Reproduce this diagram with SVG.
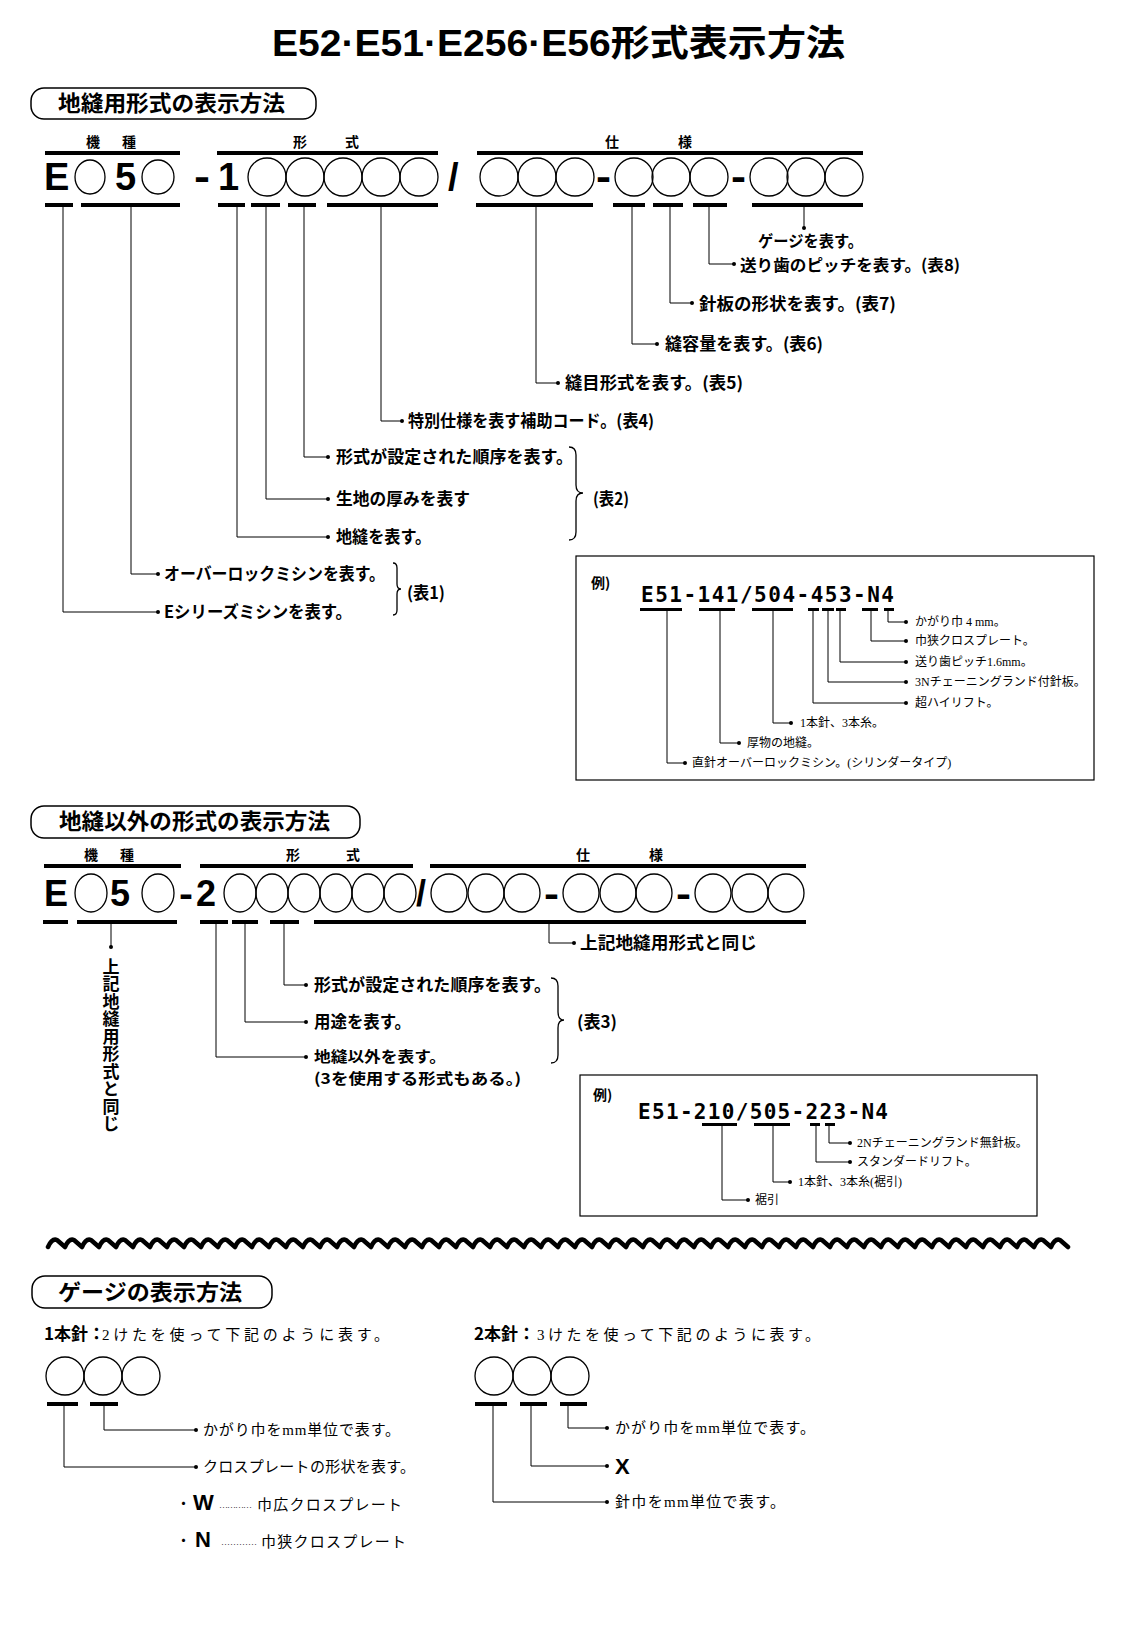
<svg xmlns="http://www.w3.org/2000/svg" width="1133" height="1626" viewBox="0 0 1133 1626">
<style>
.g{font-family:"Noto Sans CJK JP",sans-serif;font-weight:700;fill:#000}
.code{font-family:"Liberation Sans","Noto Sans CJK JP",sans-serif;font-weight:700;font-size:38px;fill:#000}
.code2{font-family:"Liberation Sans","Noto Sans CJK JP",sans-serif;font-weight:700;font-size:36px;fill:#000}
.mono{font-family:"DejaVu Sans Mono",monospace;font-weight:700;font-size:21px;fill:#000}
.m{font-family:"Liberation Serif","Noto Sans CJK JP",serif;font-weight:400;font-size:12px;fill:#000}
.m15{font-family:"Liberation Serif","Noto Sans CJK JP",serif;font-weight:400;font-size:15px;fill:#000}
.ov{fill:none;stroke:#000;stroke-width:1.3}
.pill{fill:none;stroke:#000;stroke-width:1.5}
.box{fill:none;stroke:#000;stroke-width:1.2}
.ln{fill:none;stroke:#000;stroke-width:1;marker-end:url(#dot)}
.br{fill:none;stroke:#000;stroke-width:1.3}
</style>
<defs>
<marker id="dot" markerUnits="userSpaceOnUse" markerWidth="6" markerHeight="6" refX="3" refY="3"><circle cx="3" cy="3" r="2" fill="#000"/></marker>
</defs>
<rect width="1133" height="1626" fill="#fff"/>

<g id="title"><text class="code" x="272" y="56" textLength="573" lengthAdjust="spacingAndGlyphs" style="font-size:36px">E52·E51·E256·E56形式表示方法</text></g>

<!-- Section 1 -->
<g id="sec1-heading"><rect class="pill" x="31" y="88" width="285" height="31" rx="13"/><text class="g" x="58" y="111" font-size="22" textLength="227" lengthAdjust="spacingAndGlyphs">地縫用形式の表示方法</text></g>
<g id="sec1-headers" class="g" font-size="14">
<text><tspan x="86" y="147">機</tspan><tspan x="122" y="147">種</tspan></text>
<text><tspan x="293" y="147">形</tspan><tspan x="345" y="147">式</tspan></text>
<text><tspan x="605" y="147">仕</tspan><tspan x="678" y="147">様</tspan></text>
<rect x="45" y="151" width="135" height="4"/><rect x="217" y="151" width="221" height="4"/><rect x="477" y="151" width="386" height="4"/>
</g>
<g id="sec1-code">
<text class="code" x="44" y="190">E</text>
<ellipse class="ov" cx="90" cy="177" rx="15" ry="17"/>
<text class="code" x="115" y="190">5</text>
<ellipse class="ov" cx="158" cy="177" rx="16" ry="17"/>
<text class="code" x="194" y="190" textLength="16" lengthAdjust="spacingAndGlyphs">-</text>
<text class="code" x="218" y="190">1</text>
<circle class="ov" cx="267" cy="177" r="19"/><circle class="ov" cx="305" cy="177" r="19"/><circle class="ov" cx="343" cy="177" r="19"/><circle class="ov" cx="381" cy="177" r="19"/><circle class="ov" cx="419" cy="177" r="19"/>
<text class="code" x="448" y="190">/</text>
<circle class="ov" cx="499" cy="177" r="19"/><circle class="ov" cx="537" cy="177" r="19"/><circle class="ov" cx="575" cy="177" r="19"/>
<text class="code" x="596" y="190" textLength="15" lengthAdjust="spacingAndGlyphs">-</text>
<circle class="ov" cx="634" cy="177" r="19"/><circle class="ov" cx="671" cy="177" r="19"/><circle class="ov" cx="709" cy="177" r="19"/>
<text class="code" x="731" y="190" textLength="15" lengthAdjust="spacingAndGlyphs">-</text>
<circle class="ov" cx="769" cy="177" r="19"/><circle class="ov" cx="806" cy="177" r="19"/><circle class="ov" cx="844" cy="177" r="19"/>
<rect x="45" y="203" width="28" height="4"/><rect x="81" y="203" width="99" height="4"/><rect x="218" y="203" width="27" height="4"/><rect x="251" y="203" width="29" height="4"/><rect x="288" y="203" width="28" height="4"/><rect x="327" y="203" width="111" height="4"/><rect x="476" y="203" width="117" height="4"/><rect x="613" y="203" width="32" height="4"/><rect x="653" y="203" width="30" height="4"/><rect x="693" y="203" width="34" height="4"/><rect x="752" y="203" width="111" height="4"/>
</g>
<g id="connectors">
<path class="ln" d="M63,207V612H158"/>
<path class="ln" d="M131,207V574H158"/>
<path class="ln" d="M237,207V537H328"/>
<path class="ln" d="M266,207V499H328"/>
<path class="ln" d="M304,207V457H328"/>
<path class="ln" d="M381,207V421H402"/>
<path class="ln" d="M536,207V383H558"/>
<path class="ln" d="M632,207V344H657"/>
<path class="ln" d="M670,207V303H692"/>
<path class="ln" d="M709,207V264H734"/>
<path class="ln" d="M804,207V228"/>
<path class="br" d="M393,563Q397,563 397,568L397,584Q397,589 401,589Q397,589 397,594L397,610Q397,615 393,615"/>
<path class="br" d="M569,447Q576,447 576,455L576,485Q576,493 583,493Q576,493 576,501L576,532Q576,540 569,540"/>
<path class="ln" d="M667,611V763H685"/>
<path class="ln" d="M720,611V743H739"/>
<path class="ln" d="M773,611V723H791"/>
<path class="ln" d="M813,611V703H906"/>
<path class="ln" d="M828,611V682H906"/>
<path class="ln" d="M840,611V662H906"/>
<path class="ln" d="M871,611V641H906"/>
<path class="ln" d="M888,611V622H906"/>
<path class="ln" d="M111,924V947"/>
<path class="ln" d="M549,924V943H574"/>
<path class="ln" d="M284,924V985H306"/>
<path class="ln" d="M245,924V1022H306"/>
<path class="ln" d="M216,924V1057H306"/>
<path class="br" d="M551,978Q558,978 558,986L558,1012Q558,1020 564,1020Q558,1020 558,1028L558,1055Q558,1063 551,1063"/>
<path class="ln" d="M829,1125V1143H850"/>
<path class="ln" d="M816,1125V1162H850"/>
<path class="ln" d="M773,1125V1182H790"/>
<path class="ln" d="M722,1125V1200H748"/>
<path class="ln" d="M64,1406V1467H196"/>
<path class="ln" d="M104,1406V1430H196"/>
<path class="ln" d="M568,1406V1428H607"/>
<path class="ln" d="M531,1406V1466H607"/>
<path class="ln" d="M493,1406V1502H607"/>
</g>

<g id="sec1-labels" class="g" font-size="17">
<text x="758" y="247" font-size="16" textLength="105" lengthAdjust="spacingAndGlyphs">ゲージを表す。</text>
<text x="740" y="271" font-size="16" textLength="220" lengthAdjust="spacingAndGlyphs">送り歯のピッチを表す。(表8)</text>
<text x="699" y="310" textLength="197" lengthAdjust="spacingAndGlyphs">針板の形状を表す。(表7)</text>
<text x="665" y="350" textLength="158" lengthAdjust="spacingAndGlyphs">縫容量を表す。(表6)</text>
<text x="565" y="389" textLength="178" lengthAdjust="spacingAndGlyphs">縫目形式を表す。(表5)</text>
<text x="408" y="427" textLength="246" lengthAdjust="spacingAndGlyphs">特別仕様を表す補助コード。(表4)</text>
<text x="336" y="463" textLength="237" lengthAdjust="spacingAndGlyphs">形式が設定された順序を表す。</text>
<text x="336" y="505" textLength="134" lengthAdjust="spacingAndGlyphs">生地の厚みを表す</text>
<text x="336" y="543" textLength="95" lengthAdjust="spacingAndGlyphs">地縫を表す。</text>
<text x="593" y="505" textLength="36" lengthAdjust="spacingAndGlyphs">(表2)</text>
<text x="164" y="580" textLength="221" lengthAdjust="spacingAndGlyphs">オーバーロックミシンを表す。</text>
<text x="164" y="618" textLength="188" lengthAdjust="spacingAndGlyphs">Eシリーズミシンを表す。</text>
<text x="407" y="599" textLength="38" lengthAdjust="spacingAndGlyphs">(表1)</text>
</g>

<g id="example1">
<rect class="box" x="576" y="556" width="518" height="224"/>
<text class="g" x="591" y="588" font-size="14">例)</text>
<text class="mono" x="641" y="602" textLength="253">E51-141/504-453-N4</text>
<rect x="640" y="608" width="42" height="3"/><rect x="699" y="608" width="36" height="3"/><rect x="752" y="608" width="41" height="3"/><rect x="808" y="608" width="11" height="3"/><rect x="822" y="608" width="12" height="3"/><rect x="836" y="608" width="10" height="3"/><rect x="862" y="608" width="16" height="3"/><rect x="884" y="608" width="10" height="3"/>
<text class="m" x="915" y="626">かがり巾 4 mm。</text>
<text class="m" x="915" y="645">巾狭クロスプレート。</text>
<text class="m" x="915" y="666">送り歯ピッチ1.6mm。</text>
<text class="m" x="915" y="686">3Nチェーニングランド付針板。</text>
<text class="m" x="915" y="707">超ハイリフト。</text>
<text class="m" x="800" y="727">1本針、3本糸。</text>
<text class="m" x="747" y="747">厚物の地縫。</text>
<text class="m" x="692" y="767">直針オーバーロックミシン。(シリンダータイプ)</text>
</g>

<!-- Section 2 -->
<g id="sec2-heading"><rect class="pill" x="31" y="806" width="329" height="32" rx="13"/><text class="g" x="59" y="829" font-size="22" textLength="271" lengthAdjust="spacingAndGlyphs">地縫以外の形式の表示方法</text></g>
<g id="sec2-headers" class="g" font-size="14">
<text><tspan x="84" y="860">機</tspan><tspan x="120" y="860">種</tspan></text>
<text><tspan x="286" y="860">形</tspan><tspan x="346" y="860">式</tspan></text>
<text><tspan x="576" y="860">仕</tspan><tspan x="649" y="860">様</tspan></text>
<rect x="44" y="864" width="137" height="4"/><rect x="200" y="864" width="213" height="4"/><rect x="430" y="864" width="376" height="4"/>
</g>
<g id="sec2-code">
<text class="code2" x="44" y="906">E</text>
<ellipse class="ov" cx="91" cy="893" rx="16" ry="19"/>
<text class="code2" x="110" y="906">5</text>
<ellipse class="ov" cx="158" cy="893" rx="16" ry="19"/>
<text class="code2" x="179" y="906" textLength="14" lengthAdjust="spacingAndGlyphs">-</text>
<text class="code2" x="196" y="906">2</text>
<ellipse class="ov" cx="240" cy="893" rx="16" ry="19"/><ellipse class="ov" cx="272" cy="893" rx="16" ry="19"/><ellipse class="ov" cx="304" cy="893" rx="16" ry="19"/><ellipse class="ov" cx="336" cy="893" rx="16" ry="19"/><ellipse class="ov" cx="368" cy="893" rx="16" ry="19"/><ellipse class="ov" cx="400" cy="893" rx="16" ry="19"/>
<text class="code2" x="416" y="906">/</text>
<ellipse class="ov" cx="449" cy="893" rx="18" ry="19"/><ellipse class="ov" cx="486" cy="893" rx="18" ry="19"/><ellipse class="ov" cx="522" cy="893" rx="18" ry="19"/>
<text class="code2" x="544" y="906" textLength="15" lengthAdjust="spacingAndGlyphs">-</text>
<ellipse class="ov" cx="581" cy="893" rx="18" ry="19"/><ellipse class="ov" cx="618" cy="893" rx="18" ry="19"/><ellipse class="ov" cx="654" cy="893" rx="18" ry="19"/>
<text class="code2" x="676" y="906" textLength="15" lengthAdjust="spacingAndGlyphs">-</text>
<ellipse class="ov" cx="713" cy="893" rx="18" ry="19"/><ellipse class="ov" cx="750" cy="893" rx="18" ry="19"/><ellipse class="ov" cx="786" cy="893" rx="18" ry="19"/>
<rect x="43" y="920" width="25" height="4"/><rect x="77" y="920" width="100" height="4"/><rect x="200" y="920" width="28" height="4"/><rect x="232" y="920" width="26" height="4"/><rect x="270" y="920" width="29" height="4"/><rect x="314" y="920" width="492" height="4"/>
</g>
<g id="sec2-labels" class="g" font-size="17">
<text x="111" y="958" style="writing-mode:vertical-rl;letter-spacing:0.5px" font-size="17">上記地縫用形式と同じ</text>
<text x="580" y="949" textLength="177" lengthAdjust="spacingAndGlyphs">上記地縫用形式と同じ</text>
<text x="314" y="991" textLength="237" lengthAdjust="spacingAndGlyphs">形式が設定された順序を表す。</text>
<text x="314" y="1028" textLength="97" lengthAdjust="spacingAndGlyphs">用途を表す。</text>
<text x="314" y="1062" font-size="15" textLength="132" lengthAdjust="spacingAndGlyphs">地縫以外を表す。</text>
<text x="314" y="1084" font-size="15" textLength="207" lengthAdjust="spacingAndGlyphs">(3を使用する形式もある。)</text>
<text x="577" y="1028" textLength="40" lengthAdjust="spacingAndGlyphs">(表3)</text>
</g>

<g id="example2">
<rect class="box" x="580" y="1075" width="457" height="141"/>
<text class="g" x="593" y="1100" font-size="14">例)</text>
<text class="mono" x="638" y="1119" textLength="250">E51-210/505-223-N4</text>
<rect x="702" y="1123" width="35" height="3"/><rect x="754" y="1123" width="36" height="3"/><rect x="810" y="1123" width="10" height="3"/><rect x="825" y="1123" width="10" height="3"/>
<text class="m" x="857" y="1147">2Nチェーニングランド無針板。</text>
<text class="m" x="857" y="1166">スタンダードリフト。</text>
<text class="m" x="798" y="1186">1本針、3本糸(裾引)</text>
<text class="m" x="755" y="1204">裾引</text>
</g>

<g id="divider"><path fill="none" stroke="#000" stroke-width="4.5" stroke-linejoin="round" stroke-linecap="round" d="M48,1247
q4,-9 9,-7 l8,7 q4,-9 9,-7 l8,7 q4,-9 9,-7 l8,7 q4,-9 9,-7 l8,7 q4,-9 9,-7 l8,7 q4,-9 9,-7 l8,7 q4,-9 9,-7 l8,7 q4,-9 9,-7 l8,7 q4,-9 9,-7 l8,7 q4,-9 9,-7 l8,7
q4,-9 9,-7 l8,7 q4,-9 9,-7 l8,7 q4,-9 9,-7 l8,7 q4,-9 9,-7 l8,7 q4,-9 9,-7 l8,7 q4,-9 9,-7 l8,7 q4,-9 9,-7 l8,7 q4,-9 9,-7 l8,7 q4,-9 9,-7 l8,7 q4,-9 9,-7 l8,7
q4,-9 9,-7 l8,7 q4,-9 9,-7 l8,7 q4,-9 9,-7 l8,7 q4,-9 9,-7 l8,7 q4,-9 9,-7 l8,7 q4,-9 9,-7 l8,7 q4,-9 9,-7 l8,7 q4,-9 9,-7 l8,7 q4,-9 9,-7 l8,7 q4,-9 9,-7 l8,7
q4,-9 9,-7 l8,7 q4,-9 9,-7 l8,7 q4,-9 9,-7 l8,7 q4,-9 9,-7 l8,7 q4,-9 9,-7 l8,7 q4,-9 9,-7 l8,7 q4,-9 9,-7 l8,7 q4,-9 9,-7 l8,7 q4,-9 9,-7 l8,7 q4,-9 9,-7 l8,7
q4,-9 9,-7 l8,7 q4,-9 9,-7 l8,7 q4,-9 9,-7 l8,7 q4,-9 9,-7 l8,7 q4,-9 9,-7 l8,7 q4,-9 9,-7 l8,7 q4,-9 9,-7 l8,7 q4,-9 9,-7 l8,7 q4,-9 9,-7 l8,7 q4,-9 9,-7 l8,7
q4,-9 9,-7 l8,7 q4,-9 9,-7 l8,7 q4,-9 9,-7 l8,7 q4,-9 9,-7 l8,7 q4,-9 9,-7 l8,7 q4,-9 9,-7 l8,7 q4,-9 9,-7 l8,7 q4,-9 9,-7 l8,7 q4,-9 9,-7 l8,7 q4,-9 9,-7 l8,7"/></g>

<!-- Gauge -->
<g id="gauge-heading"><rect class="pill" x="32" y="1276" width="240" height="32" rx="13"/><text class="g" x="58" y="1300" font-size="22" textLength="184" lengthAdjust="spacingAndGlyphs">ゲージの表示方法</text></g>
<g id="gauge-1">
<text class="g" x="44" y="1340" font-size="17">1本針：</text>
<text class="m15" x="102" y="1340" textLength="287">2けたを使って下記のように表す。</text>
<circle class="ov" cx="65" cy="1376" r="19"/><circle class="ov" cx="103" cy="1376" r="19"/><circle class="ov" cx="141" cy="1376" r="19"/>
<rect x="47" y="1402" width="31" height="4"/><rect x="90" y="1402" width="28" height="4"/>
<text class="m15" x="203" y="1435" textLength="197">かがり巾をmm単位で表す。</text>
<text class="m15" x="203" y="1472" textLength="212">クロスプレートの形状を表す。</text>
<text class="m15" x="176" y="1509">・</text>
<text class="code" x="193" y="1510" style="font-size:22px">W</text>
<text class="m" x="219" y="1508" style="font-size:9px" textLength="33">…………</text>
<text class="m15" x="257" y="1510" textLength="145">巾広クロスプレート</text>
<text class="m15" x="176" y="1546">・</text>
<text class="code" x="195" y="1547" style="font-size:22px">N</text>
<text class="m" x="221" y="1545" style="font-size:9px" textLength="36">…………</text>
<text class="m15" x="261" y="1547" textLength="145">巾狭クロスプレート</text>
</g>
<g id="gauge-2">
<text class="g" x="474" y="1340" font-size="17">2本針：</text>
<text class="m15" x="537" y="1340" textLength="283">3けたを使って下記のように表す。</text>
<circle class="ov" cx="494" cy="1376" r="19"/><circle class="ov" cx="532" cy="1376" r="19"/><circle class="ov" cx="570" cy="1376" r="19"/>
<rect x="475" y="1402" width="32" height="4"/><rect x="520" y="1402" width="27" height="4"/><rect x="560" y="1402" width="27" height="4"/>
<text class="m15" x="615" y="1433" textLength="200">かがり巾をmm単位で表す。</text>
<text class="code" x="615" y="1474" style="font-size:22px">X</text>
<text class="m15" x="615" y="1507" textLength="170">針巾をmm単位で表す。</text>
</g>
</svg>
